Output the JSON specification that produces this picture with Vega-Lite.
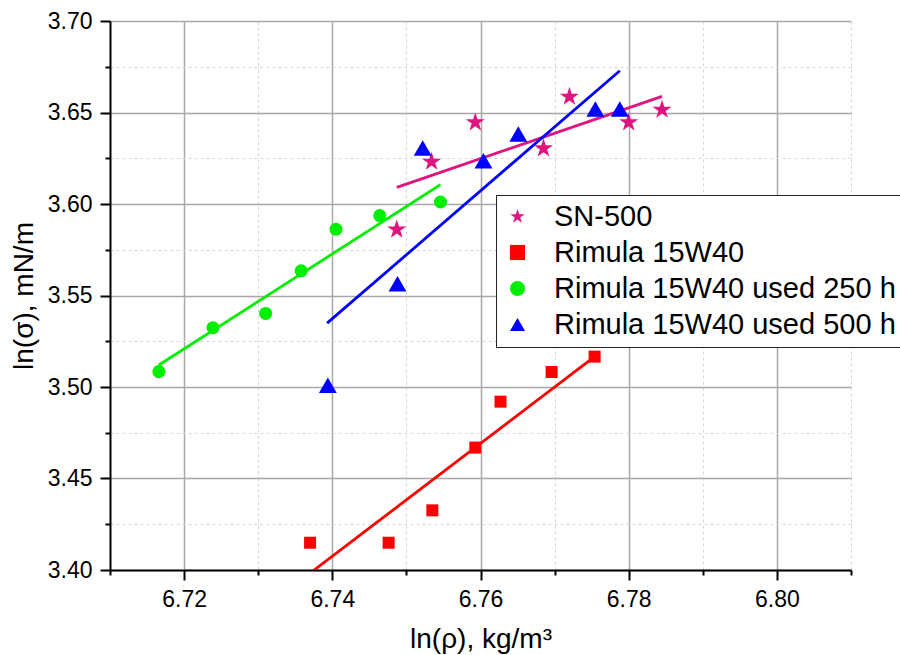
{
  "$schema": "https://vega.github.io/schema/vega-lite/v6.json",
  "width": 741,
  "height": 549,
  "autosize": "none",
  "padding": {"left": 110, "top": 21, "right": 49, "bottom": 85},
  "background": "white",
  "config": {
    "font": "Liberation Sans",
    "view": {"stroke": null}
  },
  "datasets": {
    "pts": [
      {"series": "SN-500", "x": 6.7487, "y": 3.5860},
      {"series": "SN-500", "x": 6.7534, "y": 3.6231},
      {"series": "SN-500", "x": 6.7593, "y": 3.6446},
      {"series": "SN-500", "x": 6.7685, "y": 3.6304},
      {"series": "SN-500", "x": 6.7720, "y": 3.6586},
      {"series": "SN-500", "x": 6.7800, "y": 3.6446},
      {"series": "SN-500", "x": 6.7845, "y": 3.6515},
      {"series": "Rimula 15W40", "x": 6.7370, "y": 3.4149},
      {"series": "Rimula 15W40", "x": 6.7476, "y": 3.4149},
      {"series": "Rimula 15W40", "x": 6.7535, "y": 3.4326},
      {"series": "Rimula 15W40", "x": 6.7593, "y": 3.4669},
      {"series": "Rimula 15W40", "x": 6.7627, "y": 3.4920},
      {"series": "Rimula 15W40", "x": 6.7696, "y": 3.5082},
      {"series": "Rimula 15W40", "x": 6.7754, "y": 3.5166},
      {"series": "Rimula 15W40 used 250 h", "x": 6.7166, "y": 3.5084},
      {"series": "Rimula 15W40 used 250 h", "x": 6.7239, "y": 3.5324},
      {"series": "Rimula 15W40 used 250 h", "x": 6.7310, "y": 3.5402},
      {"series": "Rimula 15W40 used 250 h", "x": 6.7358, "y": 3.5635},
      {"series": "Rimula 15W40 used 250 h", "x": 6.7405, "y": 3.5862},
      {"series": "Rimula 15W40 used 250 h", "x": 6.7464, "y": 3.5937},
      {"series": "Rimula 15W40 used 250 h", "x": 6.7546, "y": 3.6011},
      {"series": "Rimula 15W40 used 500 h", "x": 6.7394, "y": 3.5009},
      {"series": "Rimula 15W40 used 500 h", "x": 6.7488, "y": 3.5564},
      {"series": "Rimula 15W40 used 500 h", "x": 6.7522, "y": 3.6306},
      {"series": "Rimula 15W40 used 500 h", "x": 6.7604, "y": 3.6237},
      {"series": "Rimula 15W40 used 500 h", "x": 6.7651, "y": 3.6382},
      {"series": "Rimula 15W40 used 500 h", "x": 6.7755, "y": 3.6519},
      {"series": "Rimula 15W40 used 500 h", "x": 6.7788, "y": 3.6519}
    ],
    "fits": [
      {"series": "SN-500", "x": 6.7487, "y": 3.6091},
      {"series": "SN-500", "x": 6.7845, "y": 3.6588},
      {"series": "Rimula 15W40", "x": 6.7372, "y": 3.3989},
      {"series": "Rimula 15W40", "x": 6.7754, "y": 3.5166},
      {"series": "Rimula 15W40 used 250 h", "x": 6.7166, "y": 3.5120},
      {"series": "Rimula 15W40 used 250 h", "x": 6.7546, "y": 3.6106},
      {"series": "Rimula 15W40 used 500 h", "x": 6.7393, "y": 3.5349},
      {"series": "Rimula 15W40 used 500 h", "x": 6.7788, "y": 3.6728}
    ]
  },
  "encoding": {
    "x": {
      "field": "x", "type": "quantitative",
      "scale": {"domain": [6.71, 6.81], "nice": false, "zero": false},
      "axis": {
        "title": "ln(ρ), kg/m³",
        "titleFontSize": 28, "titleFontWeight": "normal", "titleColor": "black",
        "titleY": 77, "titleBaseline": "alphabetic",
        "values": [6.71, 6.72, 6.73, 6.74, 6.75, 6.76, 6.77, 6.78, 6.79, 6.80, 6.81],
        "labelExpr": "round(datum.value*100) % 2 == 0 ? format(datum.value, '.2f') : ''",
        "labelFontSize": 23, "labelColor": "black", "labelPadding": 8,
        "labelOverlap": false, "labelFlush": false,
        "domainColor": "black", "domainWidth": 2,
        "tickColor": "black", "tickWidth": 2,
        "tickSize": {"condition": {"test": "round(datum.value*100) % 2 == 0", "value": 10}, "value": 5},
        "grid": true,
        "gridColor": {"condition": {"test": "round(datum.value*100) % 2 == 0", "value": "#a8a8a8"}, "value": "#d6d6d6"},
        "gridDash": {"condition": {"test": "round(datum.value*100) % 2 == 0", "value": []}, "value": [3, 3]},
        "gridWidth": {"condition": {"test": "round(datum.value*100) % 2 == 0", "value": 1.5}, "value": 1}
      }
    },
    "y": {
      "field": "y", "type": "quantitative",
      "scale": {"domain": [3.40, 3.70], "nice": false, "zero": false},
      "axis": {
        "title": "ln(σ), mN/m",
        "titleFontSize": 28, "titleFontWeight": "normal", "titleColor": "black",
        "titleX": -78, "titleBaseline": "alphabetic",
        "values": [3.40, 3.425, 3.45, 3.475, 3.50, 3.525, 3.55, 3.575, 3.60, 3.625, 3.65, 3.675, 3.70],
        "labelExpr": "round(datum.value*1000) % 50 == 0 ? format(datum.value, '.2f') : ''",
        "labelFontSize": 23, "labelColor": "black", "labelPadding": 8,
        "labelOverlap": false, "labelFlush": false,
        "domainColor": "black", "domainWidth": 2,
        "tickColor": "black", "tickWidth": 2,
        "tickSize": {"condition": {"test": "round(datum.value*1000) % 50 == 0", "value": 10}, "value": 5},
        "grid": true,
        "gridColor": {"condition": {"test": "round(datum.value*1000) % 50 == 0", "value": "#a8a8a8"}, "value": "#d6d6d6"},
        "gridDash": {"condition": {"test": "round(datum.value*1000) % 50 == 0", "value": []}, "value": [3, 3]},
        "gridWidth": {"condition": {"test": "round(datum.value*1000) % 50 == 0", "value": 1.5}, "value": 1}
      }
    }
  },
  "layer": [
    {
      "data": {"name": "fits"},
      "transform": [{"filter": "datum.series === 'SN-500'"}],
      "mark": {"type": "line", "strokeWidth": 2.8, "clip": true, "color": "#e0147f"},
      "encoding": {}
    },
    {
      "data": {"name": "fits"},
      "transform": [{"filter": "datum.series === 'Rimula 15W40'"}],
      "mark": {"type": "line", "strokeWidth": 2.8, "clip": true, "color": "#ff0000"},
      "encoding": {}
    },
    {
      "data": {"name": "fits"},
      "transform": [{"filter": "datum.series === 'Rimula 15W40 used 250 h'"}],
      "mark": {"type": "line", "strokeWidth": 2.8, "clip": true, "color": "#00ee00"},
      "encoding": {}
    },
    {
      "data": {"name": "fits"},
      "transform": [{"filter": "datum.series === 'Rimula 15W40 used 500 h'"}],
      "mark": {"type": "line", "strokeWidth": 2.8, "clip": true, "color": "#0000ff"},
      "encoding": {}
    },
    {
      "data": {"name": "pts"},
      "mark": {"type": "point", "filled": true, "opacity": 1, "strokeWidth": 0},
      "encoding": {
        "color": {
          "field": "series", "type": "nominal",
          "scale": {"domain": ["SN-500", "Rimula 15W40", "Rimula 15W40 used 250 h", "Rimula 15W40 used 500 h"], "range": ["#e0147f", "#ff0000", "#00ee00", "#0000ff"]},
          "legend": {
            "title": null, "orient": "none", "legendX": 386, "legendY": 174,
            "labelFontSize": 29, "labelColor": "black", "labelLimit": 600,
            "labelOffset": 22, "rowPadding": 6, "padding": 7,
            "strokeColor": "#222", "fillColor": "white", "symbolStrokeWidth": 0,
            "symbolSize": 230,
            "encode": {"symbols": {"update": {"size": {"signal": "datum.value === 'SN-500' ? 360 : datum.value === 'Rimula 15W40' ? 144 : datum.value === 'Rimula 15W40 used 250 h' ? 170 : 300"}}}}
          }
        },
        "shape": {
          "field": "series", "type": "nominal",
          "scale": {"domain": ["SN-500", "Rimula 15W40", "Rimula 15W40 used 250 h", "Rimula 15W40 used 500 h"], "range": ["M0,-1L0.2245,-0.309L0.951,-0.309L0.363,0.118L0.588,0.809L0,0.382L-0.588,0.809L-0.363,0.118L-0.951,-0.309L-0.2245,-0.309Z", "square", "circle", "triangle-up"]},
          "legend": {
            "title": null, "orient": "none", "legendX": 386, "legendY": 174,
            "labelFontSize": 29, "labelColor": "black", "labelLimit": 600,
            "labelOffset": 22, "rowPadding": 6, "padding": 7,
            "strokeColor": "#222", "fillColor": "white", "symbolStrokeWidth": 0,
            "symbolSize": 230,
            "encode": {"symbols": {"update": {"size": {"signal": "datum.value === 'SN-500' ? 360 : datum.value === 'Rimula 15W40' ? 144 : datum.value === 'Rimula 15W40 used 250 h' ? 170 : 300"}}}}
          }
        },
        "size": {
          "condition": [
            {"test": "datum.series === 'SN-500'", "value": 400},
            {"test": "datum.series === 'Rimula 15W40'", "value": 144},
            {"test": "datum.series === 'Rimula 15W40 used 250 h'", "value": 170}
          ],
          "value": 320
        }
      }
    }
  ]
}
